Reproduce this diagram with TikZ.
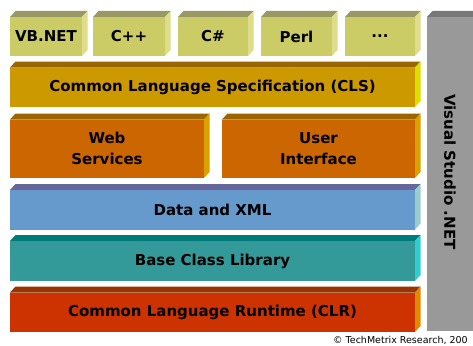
\documentclass[tikz,border=0pt]{standalone}
\usepackage{fontspec}
\setmainfont{DejaVu Sans}
\begin{document}
\begin{tikzpicture}[x=1pt,y=-1pt,
  lbl/.style={font=\bfseries\fontsize{15}{21}\selectfont,align=center,text=black,inner sep=0pt},
  note/.style={font=\fontsize{9.5}{11}\selectfont,text=black,inner sep=0pt,anchor=west}]
\definecolor{langF}{HTML}{CCCC66}\definecolor{langT}{HTML}{999966}\definecolor{langS}{HTML}{DDDD8C}
\definecolor{clsF}{HTML}{CC9900}\definecolor{clsT}{HTML}{996600}\definecolor{clsS}{HTML}{DDDD00}
\definecolor{webF}{HTML}{CC6600}\definecolor{webT}{HTML}{996600}\definecolor{webS}{HTML}{D9A000}
\definecolor{datF}{HTML}{6699CC}\definecolor{datT}{HTML}{666699}\definecolor{datS}{HTML}{99CCCC}
\definecolor{bclF}{HTML}{339999}\definecolor{bclT}{HTML}{007B7B}\definecolor{bclS}{HTML}{33CCCC}
\definecolor{clrF}{HTML}{CC3300}\definecolor{clrT}{HTML}{993300}\definecolor{clrS}{HTML}{E08A00}
\definecolor{vsF}{HTML}{999999}\definecolor{vsT}{HTML}{777777}
% \Slab{name}{x1}{y1}{x2}{y2}{front}{top}{side}{text}
\newcommand{\Slab}[9]{%
  \fill[#7] (#2,#3) -- (#2+5.5,#3-6) -- (#4+5.5,#3-6) -- (#4,#3) -- cycle;
  \fill[#8] (#4,#3) -- (#4+5.5,#3-6) -- (#4+5.5,#5-6) -- (#4,#5) -- cycle;
  \fill[#6] (#2,#3) rectangle (#4,#5);
  \node[lbl] (#1) at ({(#2+#4)/2},{(#3+#5)/2}) {#9};}
\useasboundingbox (0,0) rectangle (473,345);
\fill[white] (0,0) rectangle (473,345);
% languages
\Slab{vb}{10}{17}{82}{56}{langF}{langT}{langS}{VB.NET}
\Slab{cpp}{93}{17}{165}{56}{langF}{langT}{langS}{C++}
\Slab{cs}{178}{17}{248}{56}{langF}{langT}{langS}{C\#}
\Slab{perl}{261}{17}{332}{56}{langF}{langT}{langS}{Perl}
\Slab{more}{345}{17}{415}{56}{langF}{langT}{langS}{...}
% layers
\Slab{cls}{10}{67.5}{415}{107}{clsF}{clsT}{clsS}{Common Language Specification (CLS)}
\Slab{web}{10}{119.5}{204}{178}{webF}{webT}{webS}{Web\\Services}
\Slab{ui}{222}{119.5}{415}{178}{webF}{webT}{webS}{User\\Interface}
\Slab{data}{10}{190}{415}{229.5}{datF}{datT}{datS}{Data and XML}
\Slab{bcl}{10}{241}{415}{281}{bclF}{bclT}{bclS}{Base Class Library}
\Slab{clr}{10}{292.5}{415}{332}{clrF}{clrT}{clrS}{Common Language Runtime (CLR)}
% Visual Studio .NET
\fill[vsT] (427,17) -- (432.5,11) -- (473,11) -- (473,17) -- cycle;
\fill[vsF] (427,17) rectangle (473,331);
\node[lbl,rotate=-90] (vs) at (450,172) {Visual Studio .NET};
\node[note] (copy) at (333,340) {© TechMetrix Research, 200};
\end{tikzpicture}
\end{document}
